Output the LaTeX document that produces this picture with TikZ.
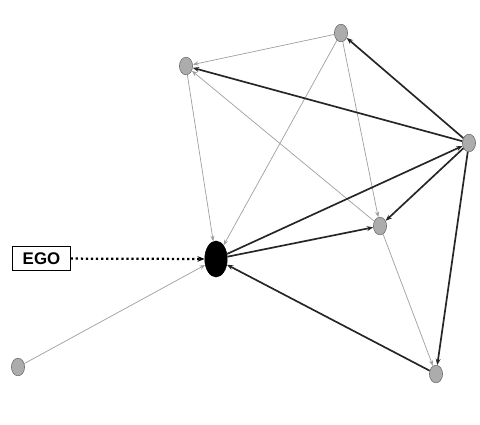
\documentclass[tikz,border=0pt]{standalone}
\usepackage{tikz}
\usepackage{fontspec}
\setmainfont{Liberation Sans}
\usetikzlibrary{shapes.geometric, arrows.meta}

\begin{document}
\begin{tikzpicture}[
    x=0.025cm, y=-0.025cm,
    alter/.style={ellipse, draw=gray!85!black, fill=gray!65, minimum width=0.33cm, minimum height=0.44cm, inner sep=0pt},
    ego/.style={ellipse, draw=black, fill=black, minimum width=0.56cm, minimum height=0.9cm, inner sep=0pt},
    weak/.style={-{Stealth[length=4pt, width=3pt]}, gray!75, line width=0.5pt},
    strong/.style={-{Stealth[length=4.5pt, width=3.5pt]}, black!85, line width=1.2pt},
    label/.style={rectangle, draw=black, thick, minimum height=0.62cm, minimum width=1.43cm, font=\bfseries\large}
]
    \useasboundingbox (0,0) rectangle (480,424);

    % Nodes of the network
    \node[alter] (a) at (186,66) {};
    \node[alter] (b) at (341,33) {};
    \node[alter] (c) at (469,143) {};
    \node[alter] (d) at (380,226) {};
    \node[alter] (e) at (436,374) {};
    \node[alter] (f) at (18,367) {};
    \node[ego] (ego) at (216,259) {};

    % Label
    \node[label] (lbl) at (41.5,258.5) {EGO};

    % Weak ties
    \draw[weak] (b) -- (a);
    \draw[weak] (d) -- (a);
    \draw[weak] (a) -- (ego);
    \draw[weak] (b) -- (ego);
    \draw[weak] (b) -- (d);
    \draw[weak] (d) -- (e);
    \draw[weak] (f) -- (ego);

    % Strong ties
    \draw[strong] (c) -- (a);
    \draw[strong] (c) -- (b);
    \draw[strong] (ego) -- (c);
    \draw[strong] (c) -- (d);
    \draw[strong] (c) -- (e);
    \draw[strong] (ego) -- (d);
    \draw[strong] (e) -- (ego);

    % Pointer to ego
    \draw[-{Stealth[length=5pt, width=4pt]}, line width=1.6pt, dotted] (lbl) -- (ego);
\end{tikzpicture}
\end{document}
